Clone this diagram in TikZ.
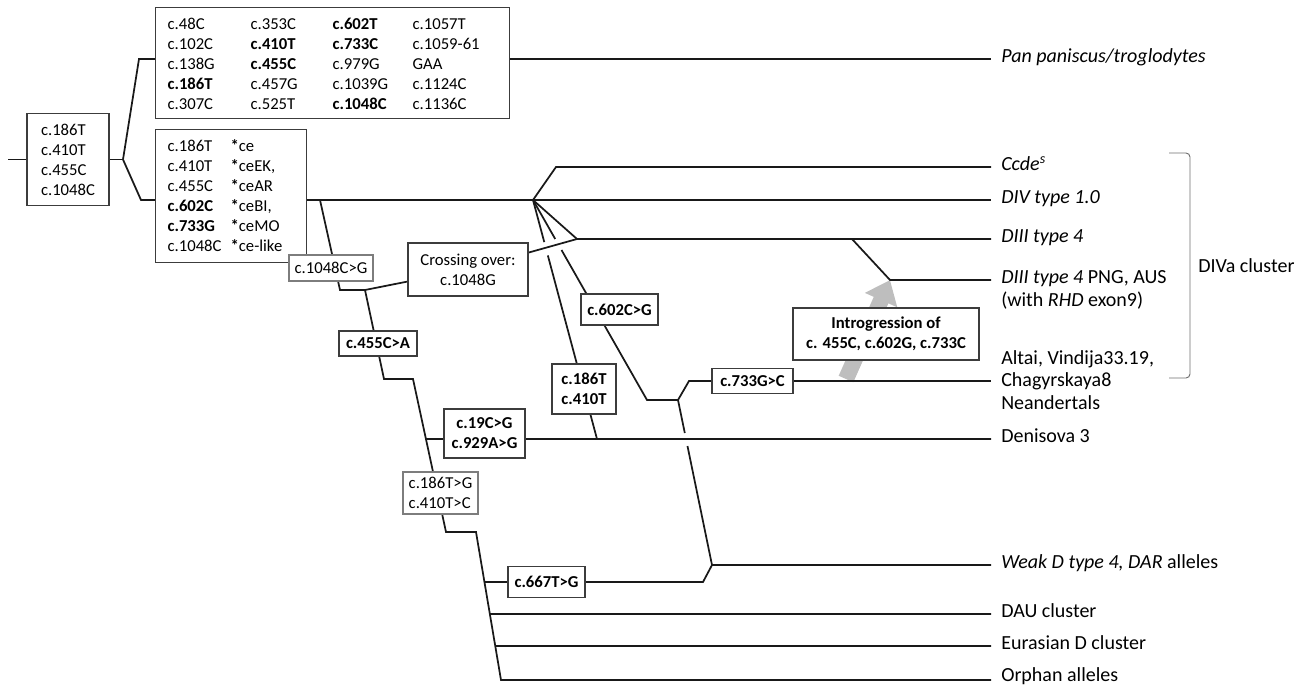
\documentclass[tikz,border=0pt]{standalone}
\usepackage{fontspec}
\setmainfont{Carlito}
\usetikzlibrary{calc,arrows.meta}
\pgfdeclarelayer{bg}
\pgfsetlayers{bg,main}
\definecolor{boxline}{RGB}{60,60,60}
\definecolor{lightbox}{RGB}{125,125,125}
\definecolor{arrowgray}{RGB}{190,190,190}
\definecolor{ink}{RGB}{25,25,25}
\definecolor{brk}{RGB}{110,110,110}
\tikzset{
  mbox/.style={draw=boxline, line width=0.9pt, fill=white, inner sep=0pt,
    font=\fontsize{12.5}{15}\selectfont},
  bbox/.style={mbox, font=\fontsize{12.5}{15}\selectfont\bfseries},
  lbox/.style={mbox, draw=lightbox},
  conn/.style={draw=ink, line width=1.3pt},
  leaf/.style={anchor=base west, inner sep=0pt, font=\fontsize{15}{16.9}\selectfont},
  leafblock/.style={anchor=west, inner sep=0pt, align=left, font=\fontsize{15}{16.9}\selectfont},
}
\begin{document}
\begin{tikzpicture}[x=0.75pt,y=-0.75pt]
\useasboundingbox (0,0) rectangle (1307,686);

% ---------- boxes ----------
\node[mbox, minimum width=61.5pt, minimum height=69pt, align=left] (root) at (68,159.5)
  {c.186T\\c.410T\\c.455C\\c.1048C};

\node[mbox, anchor=north west, minimum width=265.5pt, minimum height=83.25pt] (panbox) at (155,7)
  {\raisebox{-1.8pt}[\height][\depth]{\begin{tabular}{@{}p{62.25pt}@{}p{61.5pt}@{}p{60pt}@{}p{63.75pt}@{}}
   c.48C & c.353C & \textbf{c.602T} & c.1057T \\
   c.102C & \textbf{c.410T} & \textbf{c.733C} & c.1059-61 \\
   c.138G & \textbf{c.455C} & c.979G & GAA \\
   \textbf{c.186T} & c.457G & c.1039G & c.1124C \\
   c.307C & c.525T & \textbf{c.1048C} & c.1136C
   \end{tabular}}};

\node[mbox, anchor=north west, minimum width=113.25pt, minimum height=99.75pt] (cebox) at (155,129)
  {\raisebox{-1.2pt}[\height][\depth]{\begin{tabular}{@{}p{47.25pt}@{}p{48pt}@{}}
   c.186T & \textbf{*}ce \\
   c.410T & \textbf{*}ceEK, \\
   c.455C & \textbf{*}ceAR \\
   \textbf{c.602C} & \textbf{*}ceBI, \\
   \textbf{c.733G} & \textbf{*}ceMO \\
   c.1048C & \textbf{*}ce-like
   \end{tabular}}};

\node[lbox, minimum width=63pt, minimum height=19.5pt] (c1048) at (331,268) {c.1048C>G};
\node[mbox, minimum width=90pt, minimum height=39.75pt, align=center] (cross) at (468,269.5)
  {Crossing over:\\c.1048G};
\node[bbox, minimum width=58.5pt, minimum height=18.75pt] (c455) at (378,343.5) {c.455C>A};
\node[bbox, minimum width=60.75pt, minimum height=36.75pt, align=center] (c19) at (484.5,433.5)
  {c.19C>G\\c.929A>G};
\node[bbox, minimum width=48pt, minimum height=37.5pt, align=left] (c186) at (584,389)
  {c.186T\\c.410T};
\node[bbox, minimum width=57.75pt, minimum height=23.25pt] (c602) at (619.5,309.5) {c.602C>G};
\node[bbox, minimum width=60.75pt, minimum height=18.75pt] (c733) at (752.5,381) {c.733G>C};
\node[lbox, minimum width=56.25pt, minimum height=31.5pt, align=left] (c186g) at (440.5,493)
  {c.186T>G\\c.410T>C};
\node[bbox, minimum width=57.75pt, minimum height=23.25pt] (c667) at (546.5,582) {c.667T>G};
\node[bbox, minimum width=139.5pt, minimum height=39pt, align=center] (intro) at (886,334)
  {Introgression of\\c. 455C, c.602G, c.733C};

% ---------- leaf labels ----------
\node[leaf] (lpan) at (1001,62) {\textit{Pan paniscus/troglodytes}};
\node[leaf] (lccde) at (1001,170) {\textit{Ccde\textsuperscript{s}}};
\node[leaf] (ldiv) at (1001,203) {\textit{DIV type 1.0}};
\node[leaf] (ld3) at (1001,242) {\textit{DIII type 4}};
\node[leafblock] (lpng) at (1001,290) {\textit{DIII type 4} PNG, AUS\\(with \textit{RHD} exon9)};
\node[leafblock] (lalt) at (1001,380) {Altai, Vindija33.19,\\Chagyrskaya8\\Neandertals};
\node[leaf] (lden) at (1001,442) {Denisova 3};
\node[leaf] (lwd) at (1001,568) {\textit{Weak D type 4, DAR} alleles};
\node[leaf] (ldau) at (1001,617) {DAU cluster};
\node[leaf] (leur) at (1001,649) {Eurasian D cluster};
\node[leaf] (lorph) at (1001,681.5) {Orphan alleles};
\node[leafblock] (ldiva) at (1198,266) {DIVa cluster};

% ---------- coordinates ----------
\coordinate (rin) at (8,159.5);
\coordinate (sp) at (123,159.5);
\coordinate (spu) at (139,59);
\coordinate (spd) at (141,200);
\coordinate (panend) at (991,59);
\coordinate (divend) at (991,200);
\coordinate (cebr) at (320,200);
\coordinate (k1) at (340,290);
\coordinate (k2) at (365,290);
\coordinate (k3) at (384,379);
\coordinate (k4) at (413,379);
\coordinate (k5) at (446,532);
\coordinate (k6) at (476,532);
\coordinate (k7) at (501,680);
\coordinate (orphend) at (991,680);
\coordinate (hub) at (533,200);
\coordinate (ccdek) at (556,167);
\coordinate (ccdeend) at (991,167);
\coordinate (d3j) at (577,239);
\coordinate (d3end) at (991,239);
\coordinate (pngs) at (852,239);
\coordinate (pngk) at (890,280);
\coordinate (pngend) at (991,280);
\coordinate (l1end) at (597,439);
\coordinate (l2end) at (647,400);
\coordinate (nj) at (678,400);
\coordinate (nk) at (689,381);
\coordinate (altend) at (991,381);
\coordinate (wdj) at (712,565);
\coordinate (wdend) at (991,565);
\coordinate (wdk) at (703,582);
\coordinate (denend) at (991,439);
\coordinate (dauend) at (991,614);
\coordinate (eurend) at (991,646);
\coordinate (atail) at (846,379);

% ---------- connectors ----------
\begin{pgfonlayer}{bg}
\draw[arrowgray, line width=12pt, -{Triangle[length=16.5pt,width=25.5pt]}] (atail) -- (pngk);

\draw[conn] (rin) -- (root.west);
\draw[conn] (root.east) -- (sp);
\draw[conn] (sp) -- (spu) -- (panbox.west |- spu);
\draw[conn] (sp) -- (spd) -- (cebox.west |- spd);
\draw[conn] (panbox.east |- panend) -- (panend);
\draw[conn] (cebox.east |- divend) -- (divend);

\draw[conn] (cebr) -- (k1) -- (k2) -- (k3) -- (k4) -- (k5) -- (k6) -- (k7) -- (orphend);
\draw[conn] (k2) -- (cross);
\draw[conn] (cross) -- (d3j);
\draw[conn] ($(k4)!0.392!(k5)$) -- (denend);
\draw[conn] ($(k6)!0.338!(k7)$) -- (c667.west);
\draw[conn] ($(k6)!0.554!(k7)$) -- (dauend);
\draw[conn] ($(k6)!0.770!(k7)$) -- (eurend);

\draw[conn] (hub) -- (ccdek) -- (ccdeend);
\draw[conn] (hub) -- (d3j) -- (d3end);
\draw[conn] (pngs) -- (pngk) -- (pngend);

\draw[conn] (hub) -- ($(hub)!0.176!(l1end)$);
\draw[conn] ($(hub)!0.232!(l1end)$) -- (l1end);

\draw[conn] (hub) -- ($(hub)!0.195!(l2end)$);
\draw[conn] ($(hub)!0.25!(l2end)$) -- (l2end) -- (nj);
\draw[conn] (nj) -- (nk) -- (c733.west);
\draw[conn] (c733.east) -- (altend);

\draw[conn] (nj) -- ($(nj)!0.2!(wdj)$);
\draw[conn] ($(nj)!0.279!(wdj)$) -- (wdj) -- (wdend);
\draw[conn] (wdj) -- (wdk) -- (c667.east);

\draw[brk, line width=0.7pt, rounded corners=3pt] (1169,153) -- (1190,153) -- (1190,378) -- (1169,378);
\end{pgfonlayer}
\end{tikzpicture}
\end{document}
